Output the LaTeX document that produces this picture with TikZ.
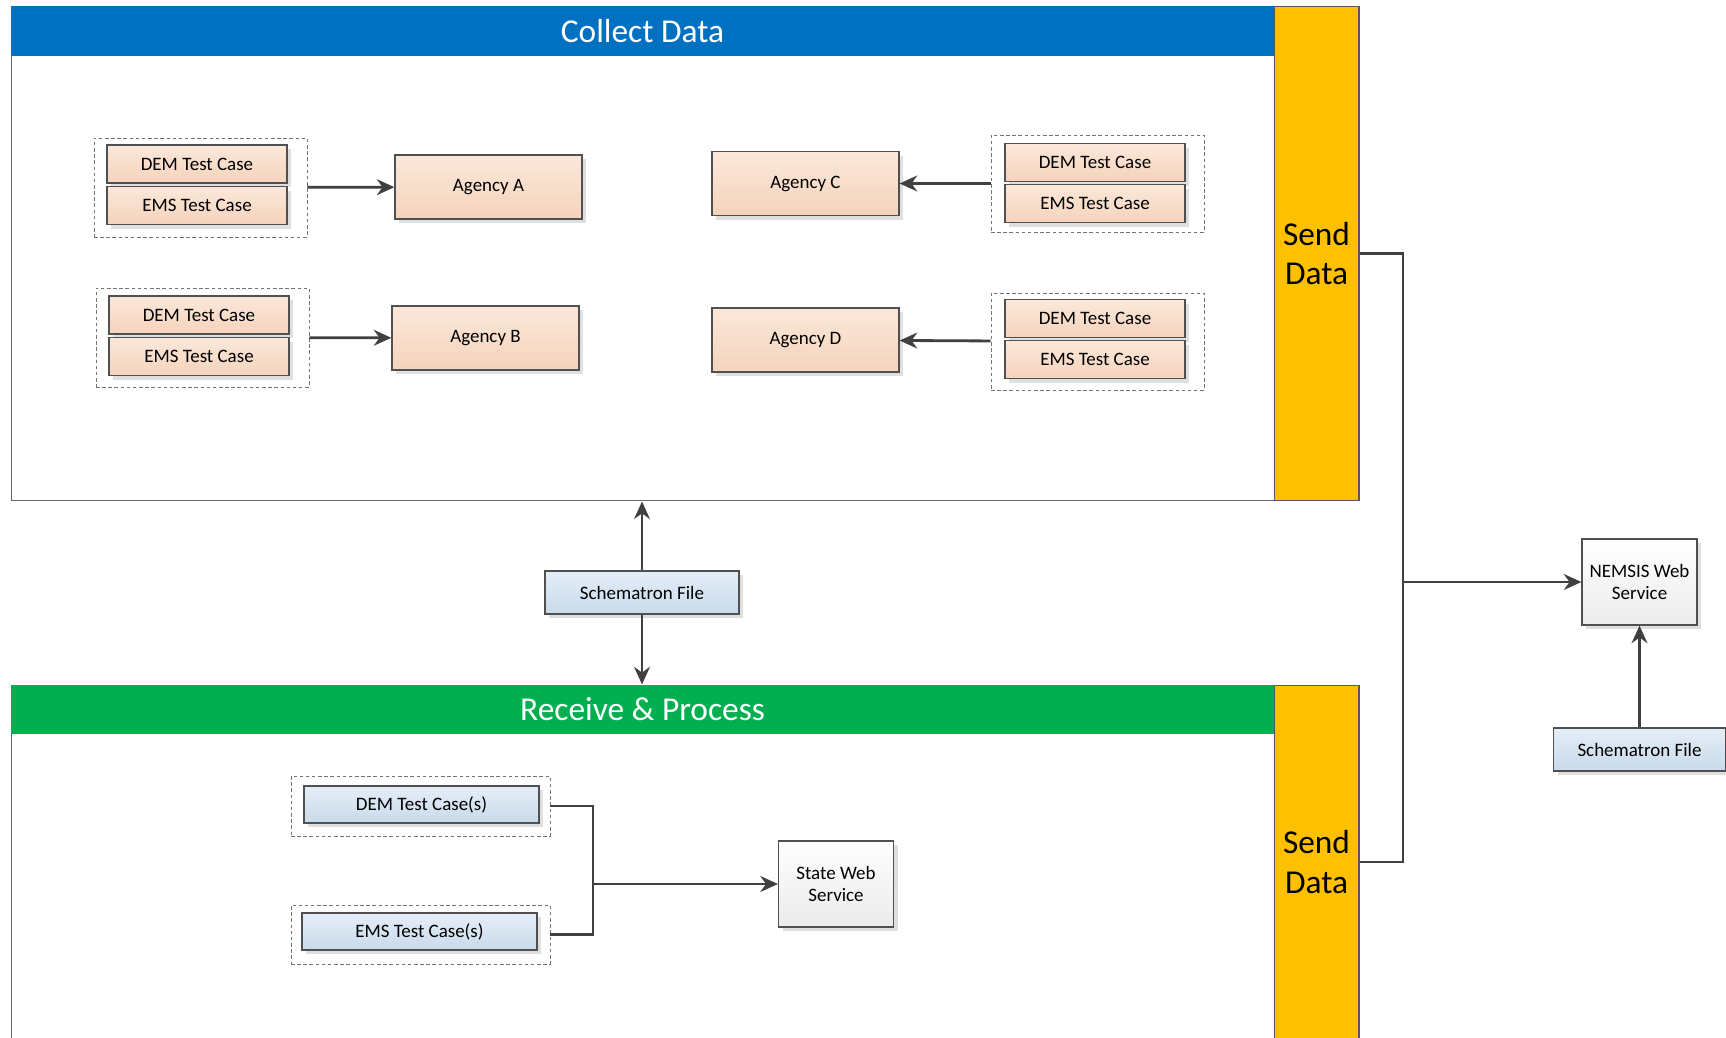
\documentclass[tikz,border=0pt]{standalone}
\usepackage{fontspec}
\setmainfont{Carlito}
\usepackage{tikz}
\usetikzlibrary{arrows.meta,positioning,shadows}
\usepackage{xcolor}
\definecolor{hdrblue}{HTML}{0070C0}
\definecolor{hdrgreen}{HTML}{00B050}
\definecolor{sendyellow}{HTML}{FFC000}
\definecolor{peachtop}{HTML}{FBE8DB}
\definecolor{peachbot}{HTML}{F5D3BB}
\definecolor{bluetop}{HTML}{E4EEF8}
\definecolor{bluebot}{HTML}{C9DAEA}
\definecolor{edgegray}{HTML}{404040}
\definecolor{boxline}{HTML}{505050}

\begin{document}
\begin{tikzpicture}[x=0.02cm,y=-0.02cm,semithick,
  >={Stealth[length=10pt,width=9pt]},
  txt/.style={font=\fontsize{10.8}{13}\selectfont},
  big/.style={font=\fontsize{19}{22.5}\selectfont},
  box/.style={txt,draw=boxline,line width=0.7pt,inner sep=0pt,
    drop shadow={shadow xshift=2.5pt,shadow yshift=-2.5pt,fill=black!25,opacity=.5}},
  case/.style={box,top color=peachtop,bottom color=peachbot,minimum width=3.6cm,minimum height=0.76cm},
  agency/.style={box,top color=peachtop,bottom color=peachbot,minimum width=3.74cm,minimum height=1.28cm},
  file/.style={box,top color=bluetop,bottom color=bluebot,minimum height=0.86cm},
  service/.style={box,top color=white,bottom color=black!8,minimum width=2.3cm,minimum height=1.72cm,align=center},
  group/.style={draw=black!55,dash pattern=on 2pt off 1.5pt,line width=0.5pt},
  area/.style={draw=black!60,line width=0.6pt,minimum width=26.96cm},
  band/.style={big,text=white,minimum width=25.26cm,inner sep=0pt},
  sendbox/.style={big,draw=black!65,fill=sendyellow,line width=0.6pt,minimum width=1.7cm,align=center},
  conn/.style={draw=edgegray,line width=1.6pt}]

  \clip (0,0) rectangle (1726,1037);

  \node[area,minimum height=9.9cm] (collect) at (685,253.5) {};
  \node[band,fill=hdrblue,minimum height=1cm] (collecthdr) at (642.5,31) {Collect Data};
  \node[sendbox,minimum height=9.9cm] (sendA) at (1316.5,253.5) {Send\\Data};

  \node[area,minimum height=7.08cm] (recv) at (685,862) {};
  \node[band,fill=hdrgreen,minimum height=0.98cm] (recvhdr) at (642.5,709.5) {Receive \& Process};
  \node[sendbox,minimum height=7.08cm] (sendB) at (1316.5,862) {Send\\Data};

  \node[group,minimum width=4.26cm,minimum height=1.98cm] (gA) at (200.5,187.5) {};
  \node[case] (demA) at (197,164) {DEM Test Case};
  \node[case] (emsA) [below=0.04cm of demA] {EMS Test Case};
  \node[agency] (agA) at (488.5,187) {Agency A};

  \node[group,minimum width=4.26cm,minimum height=1.98cm] (gB) at (202.5,337.5) {};
  \node[case] (demB) at (199,315) {DEM Test Case};
  \node[case] (emsB) [below=0.04cm of demB] {EMS Test Case};
  \node[agency] (agB) at (485.5,338) {Agency B};

  \node[agency] (agC) at (805.5,183.5) {Agency C};
  \node[group,minimum width=4.26cm,minimum height=1.94cm] (gC) at (1097.5,183.5) {};
  \node[case] (demC) at (1095,162.5) {DEM Test Case};
  \node[case] (emsC) [below=0.04cm of demC] {EMS Test Case};

  \node[agency] (agD) at (805.5,340) {Agency D};
  \node[group,minimum width=4.26cm,minimum height=1.94cm] (gD) at (1097.5,341.5) {};
  \node[case] (demD) at (1095,318.5) {DEM Test Case};
  \node[case] (emsD) [below=0.04cm of demD] {EMS Test Case};

  \node[file,minimum width=3.88cm] (schem) at (642,592.5) {Schematron File};

  \node[group,minimum width=5.18cm,minimum height=1.2cm] (gdems) at (420.5,806) {};
  \node[box,top color=bluetop,bottom color=bluebot,minimum width=4.7cm,minimum height=0.74cm] (dems) at (421.5,804.5) {DEM Test Case(s)};
  \node[group,minimum width=5.18cm,minimum height=1.18cm] (gemss) at (420.5,934.5) {};
  \node[box,top color=bluetop,bottom color=bluebot,minimum width=4.7cm,minimum height=0.74cm] (emss) at (419.5,931.5) {EMS Test Case(s)};
  \node[service] (state) at (836,884) {State Web\\Service};

  \node[service] (nemsis) at (1639.5,582) {NEMSIS Web\\Service};
  \node[file,minimum width=3.44cm] (schemR) at (1639.5,749.5) {Schematron File};

  \coordinate (junc) at (593,884);
  \coordinate (bus) at (1403,582);

  \path[->,every edge/.style={conn}]
        (gA) edge (agA)
        (gB) edge (agB)
        (gC) edge (agC)
        (gD) edge (agD)
        (schem) edge (schem |- collect.south)
        (schem) edge (schem |- recvhdr.north)
        (junc) edge (state)
        (bus) edge (nemsis)
        (schemR) edge (nemsis);

  \draw[conn] (gdems.east) -| (junc) |- (gemss.east);
  \draw[conn] (sendA.east) -| (bus) |- (sendB.east);
\end{tikzpicture}
\end{document}
